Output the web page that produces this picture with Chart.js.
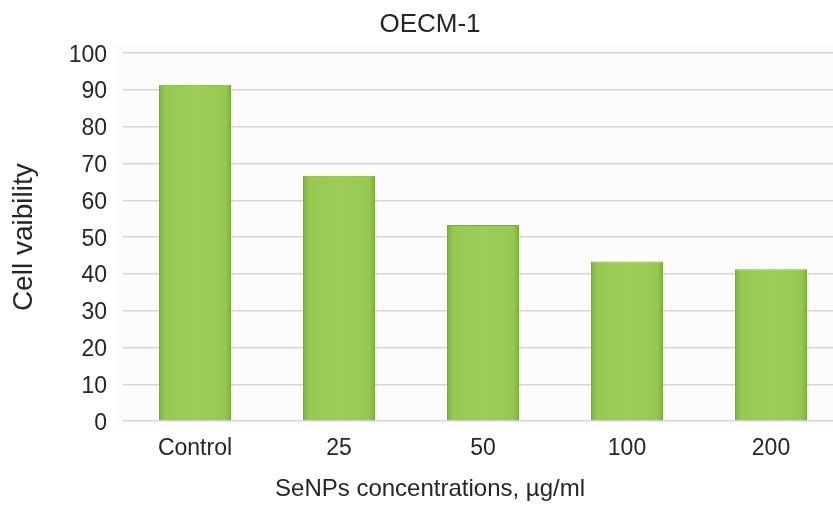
<!DOCTYPE html>
<html>
<head>
<meta charset="utf-8">
<script src="https://cdn.jsdelivr.net/npm/chart.js@4/dist/chart.umd.min.js"></script>
<style>
  html, body { margin: 0; padding: 0; background: #ffffff; overflow: hidden; width: 833px; height: 506px; }
  #wrap { width: 860px; height: 506px; }
</style>
</head>
<body>
<div id="wrap"><canvas id="c" width="860" height="506"></canvas></div>
<script>
const chartTitle = 'OECM-1';
const xAxisTitle = 'SeNPs concentrations, µg/ml';
const yAxisTitle = 'Cell vaibility';
const categories = ['Control', '25', '50', '100', '200'];
const cellViability = [91.4, 66.7, 53.3, 43.4, 41.3];
const yMin = 0, yMax = 100, yStep = 10;

const FONT = "'Liberation Sans', Arial, Helvetica, sans-serif";
const TEXT = '#262626';

function barFill(ctx) {
  const chart = ctx.chart;
  const xs = chart.scales && chart.scales.x;
  if (!xs || typeof ctx.dataIndex !== 'number') return '#9BCB55';
  const cx = xs.getPixelForValue(ctx.dataIndex);
  const half = (xs.width / categories.length) * 0.5 / 2;
  if (!isFinite(cx) || !isFinite(half) || half <= 0) return '#9BCB55';
  const g = chart.ctx.createLinearGradient(cx - half, 0, cx + half, 0);
  g.addColorStop(0, '#7FB03C');
  g.addColorStop(0.08, '#96C852');
  g.addColorStop(0.5, '#9DCD58');
  g.addColorStop(0.92, '#96C852');
  g.addColorStop(1, '#7FB03C');
  return g;
}

const plotBg = {
  id: 'plotBg',
  beforeDraw(chart) {
    const {ctx, chartArea: a} = chart;
    ctx.save();
    ctx.fillStyle = '#FCFCFC';
    ctx.fillRect(a.left - 8, a.top - 10, a.right - a.left + 8, a.bottom - a.top + 14);
    ctx.restore();
  }
};

new Chart(document.getElementById('c'), {
  type: 'bar',
  data: {
    labels: categories,
    datasets: [{
      label: yAxisTitle,
      data: cellViability,
      backgroundColor: barFill,
      borderColor: '#7AAA38',
      borderWidth: 1,
      borderSkipped: 'bottom',
      categoryPercentage: 1.0,
      barPercentage: 0.5
    }]
  },
  options: {
    responsive: false,
    animation: false,
    layout: { padding: 0 },
    plugins: {
      legend: { display: false },
      tooltip: { enabled: false },
      title: {
        display: true,
        text: chartTitle,
        color: TEXT,
        font: { family: FONT, size: 26, weight: 'normal' },
        padding: { top: 9, bottom: 13 }
      },
      subtitle: {
        display: true,
        position: 'bottom',
        text: xAxisTitle,
        color: TEXT,
        font: { family: FONT, size: 24, weight: 'normal' },
        padding: { top: 8, bottom: 2 }
      }
    },
    scales: {
      x: {
        grid: { display: false, drawTicks: false },
        border: { display: false },
        ticks: { color: TEXT, font: { family: FONT, size: 23 }, padding: 14, maxRotation: 0 },
        afterFit(s) { s.height = 46; }
      },
      y: {
        min: yMin, max: yMax,
        grid: { color: '#DAD6D6', lineWidth: 1.6, drawTicks: false },
        border: { display: false },
        ticks: { stepSize: yStep, color: TEXT, font: { family: FONT, size: 23 }, padding: 16, labelOffset: 2 },
        title: {
          display: true, text: yAxisTitle, color: TEXT,
          font: { family: FONT, size: 28, weight: 'normal' },
          padding: { top: 7, bottom: 0 }
        },
        afterFit(s) { s.width = 123; }
      },
      yR: {
        position: 'right',
        display: true,
        grid: { display: false, drawTicks: false },
        border: { display: false },
        ticks: { display: false },
        afterFit(s) { s.width = 17; }
      }
    }
  },
  plugins: [plotBg]
});
</script>
</body>
</html>
